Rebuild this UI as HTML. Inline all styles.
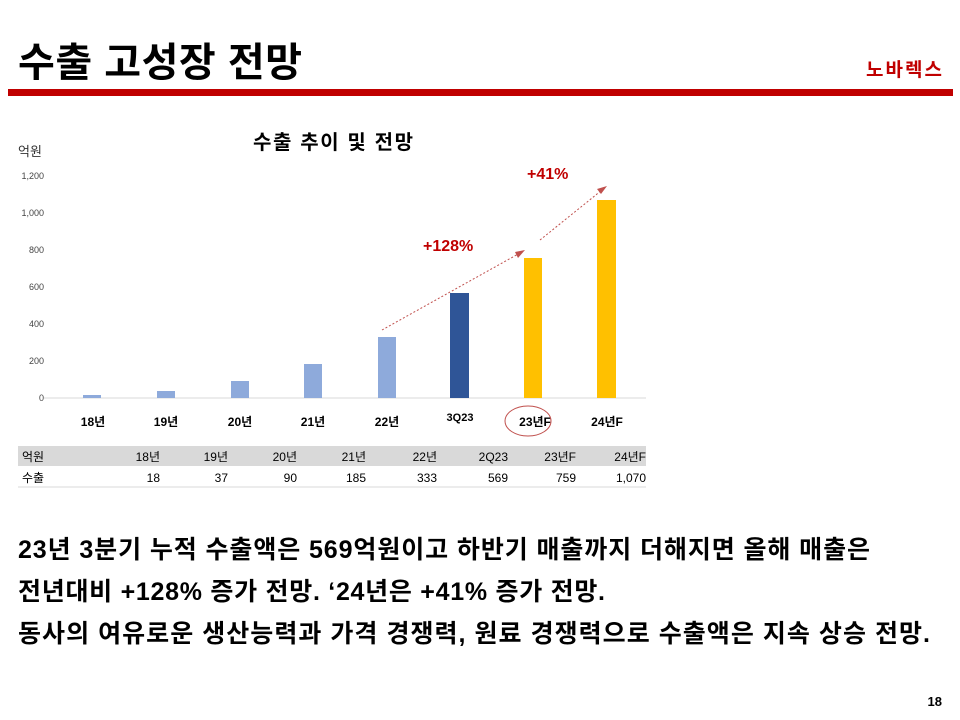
<!DOCTYPE html>
<html><head><meta charset="utf-8"><style>
body{margin:0;width:960px;height:720px;background:#fff;position:relative;overflow:hidden;font-family:"Liberation Sans","Noto Sans CJK KR",sans-serif;}
.a{position:absolute;white-space:nowrap;}
</style></head><body>
<div class="a" style="left:8px;top:89px;width:945px;height:7px;background:#c00000;"></div>
<svg class="a" style="left:0;top:0" width="960" height="720" font-family="Liberation Sans, Noto Sans CJK KR, sans-serif">
<text x="18" y="76" font-size="40" font-weight="bold" textLength="284" lengthAdjust="spacing">수출 고성장 전망</text>
<text x="866" y="76" font-size="19" font-weight="bold" fill="#c00000" textLength="76">노바렉스</text>
<text x="253" y="149" font-size="20" font-weight="bold" textLength="160" lengthAdjust="spacing">수출 추이 및 전망</text>
<text x="18" y="156" font-size="13" fill="#333">억원</text>
<g font-size="9" fill="#444" text-anchor="end">
<text x="44" y="179">1,200</text><text x="44" y="216">1,000</text><text x="44" y="253">800</text><text x="44" y="290">600</text><text x="44" y="327">400</text><text x="44" y="364">200</text><text x="44" y="401">0</text>
</g>
<line x1="44" y1="398" x2="646" y2="398" stroke="#d9d9d9" stroke-width="1"/>
<g fill="#8eaadb">
<rect x="83" y="395" width="18" height="3"/>
<rect x="157" y="391" width="18" height="7"/>
<rect x="231" y="381" width="18" height="17"/>
<rect x="304" y="364" width="18" height="34"/>
<rect x="378" y="337" width="18" height="61"/>
</g>
<rect x="450" y="293" width="19" height="105" fill="#2f5597"/>
<rect x="524" y="258" width="18" height="140" fill="#ffc000"/>
<rect x="597" y="200" width="19" height="198" fill="#ffc000"/>
<g font-size="12" font-weight="bold" text-anchor="middle">
<text x="93" y="426">18년</text><text x="166" y="426">19년</text><text x="240" y="426">20년</text><text x="313" y="426">21년</text><text x="387" y="426">22년</text><text x="460" y="421" font-size="11">3Q23</text><text x="535" y="426">23년F</text><text x="607" y="426">24년F</text>
</g>
<ellipse cx="528" cy="421" rx="23" ry="15" fill="none" stroke="#c0504d" stroke-width="1"/>
<g stroke="#c0504d" stroke-width="1" stroke-dasharray="2,2" fill="none">
<line x1="382" y1="330" x2="520" y2="253"/>
<line x1="540" y1="240" x2="602" y2="190"/>
</g>
<polygon points="525,250 515,252 518,258" fill="#c0504d"/>
<polygon points="607,186 597,189 601,194" fill="#c0504d"/>
<text x="423" y="251" font-size="16" font-weight="bold" fill="#c00000">+128%</text>
<text x="527" y="179" font-size="16" font-weight="bold" fill="#c00000">+41%</text>
<rect x="18" y="446" width="628" height="20" fill="#d9d9d9"/>
<line x1="18" y1="487" x2="646" y2="487" stroke="#d9d9d9"/>
<g font-size="12" text-anchor="end">
<text x="22" y="461" text-anchor="start">억원</text>
<text x="160" y="461">18년</text><text x="228" y="461">19년</text><text x="297" y="461">20년</text><text x="366" y="461">21년</text><text x="437" y="461">22년</text><text x="508" y="461">2Q23</text><text x="576" y="461">23년F</text><text x="646" y="461">24년F</text>
<text x="22" y="482" text-anchor="start">수출</text>
<text x="160" y="482">18</text><text x="228" y="482">37</text><text x="297" y="482">90</text><text x="366" y="482">185</text><text x="437" y="482">333</text><text x="508" y="482">569</text><text x="576" y="482">759</text><text x="646" y="482">1,070</text>
</g>
<g font-size="25" font-weight="bold">
<text x="18" y="558" textLength="852" lengthAdjust="spacing">23년 3분기 누적 수출액은 569억원이고 하반기 매출까지 더해지면 올해 매출은</text>
<text x="18" y="600" textLength="587" lengthAdjust="spacing">전년대비 +128% 증가 전망. ‘24년은 +41% 증가 전망.</text>
<text x="18" y="642" textLength="912" lengthAdjust="spacing">동사의 여유로운 생산능력과 가격 경쟁력, 원료 경쟁력으로 수출액은 지속 상승 전망.</text>
</g>
<text x="942" y="706" font-size="13" font-weight="bold" text-anchor="end">18</text>
</svg>
</body></html>
